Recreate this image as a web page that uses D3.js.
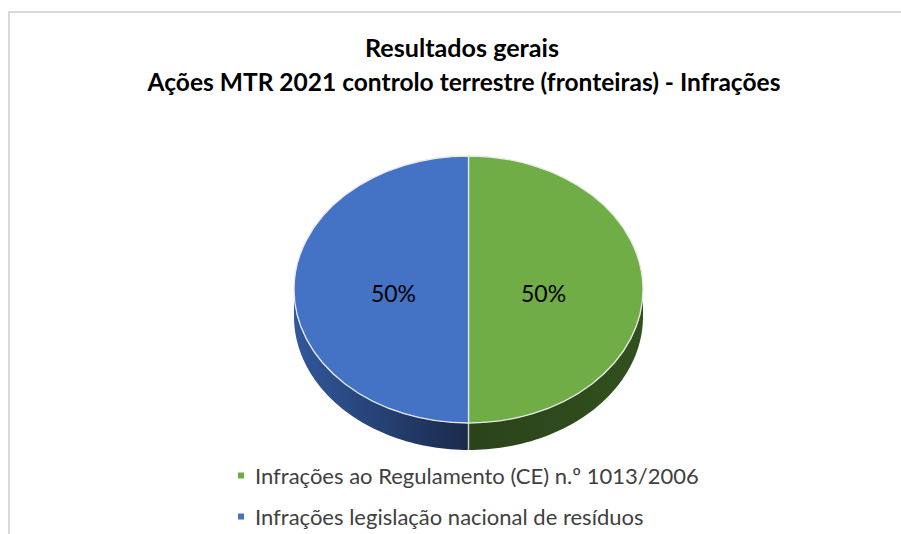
<!DOCTYPE html>
<html>
<meta charset="utf-8">
<head>
<title>Resultados gerais - Infrações</title>
<style>
body { margin: 0; background: #fff; }
svg { display: block; font-family: Lato, "Open Sans", sans-serif; }
</style>
</head>
<body>
<script src="https://d3js.org/d3.v7.min.js"></script>
<script>

// data
var categories = ["Infrações ao Regulamento (CE) n.º 1013/2006", "Infrações legislação nacional de resíduos"];
var values = [50, 50];
var colors = ["#70ad47", "#4472c4"];
var titleLines = ["Resultados gerais", "Ações MTR 2021 controlo terrestre (fronteiras) - Infrações"];

var width = 901, height = 534;

var svg = d3.select("body").append("svg")
    .attr("width", width)
    .attr("height", height);

// chart frame (only top and left edge visible in the crop)
svg.append("path")
    .attr("d", "M 9 " + height + " L 9 12 L " + width + " 12")
    .style("fill", "none")
    .style("stroke", "#d9d9d9")
    .style("stroke-width", 2);

// fit a text element to a target width by changing its font size
function fitWidth(node, target) {
  var sel = d3.select(node);
  var w = node.getComputedTextLength();
  var fs = parseFloat(sel.attr("font-size"));
  sel.attr("font-size", (fs * target / w).toFixed(2));
}

// title
var titleWidths = [194, 633];
svg.append("g").selectAll("text")
    .data(titleLines).enter()
    .append("text")
    .attr("x", (d, i) => i == 0 ? 462 : 464)
    .attr("y", (d, i) => 57 + i * 34)
    .attr("text-anchor", "middle")
    .attr("font-size", 20).attr("font-weight", "bold")
    .style("fill", "#000")
    .text(d => d)
    .each(function(d, i) { fitWidth(this, titleWidths[i]); });

// pie geometry (ellipse with depth)
var cx = 468.5, cy = 289.5, rx = 174.5, ry = 133.5, depth = 27;

var pie = d3.pie().sort(null).value(d => d);
var slices = pie(values);

var defs = svg.append("defs");
var gBlue = defs.append("linearGradient").attr("id", "sideBlue")
    .attr("gradientUnits", "userSpaceOnUse")
    .attr("x1", cx - rx).attr("x2", cx).attr("y1", 0).attr("y2", 0);
gBlue.append("stop").attr("offset", "0%").attr("stop-color", "#31589c");
gBlue.append("stop").attr("offset", "100%").attr("stop-color", "#1a2a4c");
var gGreen = defs.append("linearGradient").attr("id", "sideGreen")
    .attr("gradientUnits", "userSpaceOnUse")
    .attr("x1", cx).attr("x2", cx + rx).attr("y1", 0).attr("y2", 0);
gGreen.append("stop").attr("offset", "0%").attr("stop-color", "#2b4319");
gGreen.append("stop").attr("offset", "100%").attr("stop-color", "#31501f");
var sideFill = ["url(#sideGreen)", "url(#sideBlue)"];

function pt(a, dy) {
  return [cx + Math.sin(a) * rx, cy - Math.cos(a) * ry + (dy || 0)];
}

// side walls: only the front half (angles between pi/2 and 3pi/2) shows
function sidePath(d) {
  var a0 = Math.max(d.startAngle, Math.PI / 2);
  var a1 = Math.min(d.endAngle, 3 * Math.PI / 2);
  if (a1 <= a0) return null;
  var n = 60, top = [], bot = [];
  for (var i = 0; i <= n; i++) {
    var a = a0 + (a1 - a0) * i / n;
    top.push(pt(a, 0));
    bot.push(pt(a, depth));
  }
  return d3.line()(top.concat(bot.reverse())) + "Z";
}

var sides = svg.append("g");
sides.selectAll("path")
    .data(slices).enter()
    .append("path")
    .attr("d", sidePath)
    .style("fill", (d, i) => sideFill[i])
    .style("stroke", "none");

// vertical seam on the side wall at the front
sides.append("line")
    .attr("x1", pt(Math.PI)[0]).attr("x2", pt(Math.PI)[0])
    .attr("y1", pt(Math.PI)[1]).attr("y2", pt(Math.PI, depth)[1])
    .style("stroke", "#c9c9c9")
    .style("stroke-width", 1.5);

// top face
var arc = d3.arc().innerRadius(0).outerRadius(rx);
svg.append("g")
    .attr("transform", "translate(" + cx + "," + cy + ") scale(1," + (ry / rx) + ")")
    .selectAll("path")
    .data(slices).enter()
    .append("path")
    .attr("d", arc)
    .style("fill", (d, i) => colors[i])
    .style("stroke", "#e8e8e8")
    .style("stroke-width", 1.3)
    .attr("vector-effect", "non-scaling-stroke");

// percentage labels
var total = d3.sum(values);
var labelPos = d3.arc().innerRadius(rx * 0.43).outerRadius(rx * 0.43);
svg.append("g")
    .selectAll("text")
    .data(slices).enter()
    .append("text")
    .attr("x", d => cx + labelPos.centroid(d)[0])
    .attr("y", d => cy + labelPos.centroid(d)[1] * ry / rx + 12)
    .attr("text-anchor", "middle")
    .attr("font-size", 23)
    .style("fill", "#000")
    .text(d => Math.round(d.value / total * 100) + "%");

// legend
var legend = svg.append("g");
var rows = legend.selectAll("g")
    .data(categories).enter()
    .append("g")
    .attr("transform", (d, i) => "translate(238," + (483.5 + i * 41) + ")");
rows.append("rect")
    .attr("x", 0).attr("y", -11)
    .attr("width", 6).attr("height", 6)
    .style("fill", (d, i) => colors[i]);
var lt = rows.append("text")
    .attr("x", 17).attr("y", 0)
    .attr("font-size", 20)
    .style("fill", "#404040")
    .text(d => d);
fitWidth(lt.nodes()[0], 444);
lt.attr("font-size", d3.select(lt.nodes()[0]).attr("font-size"));

</script>
</body>
</html>
